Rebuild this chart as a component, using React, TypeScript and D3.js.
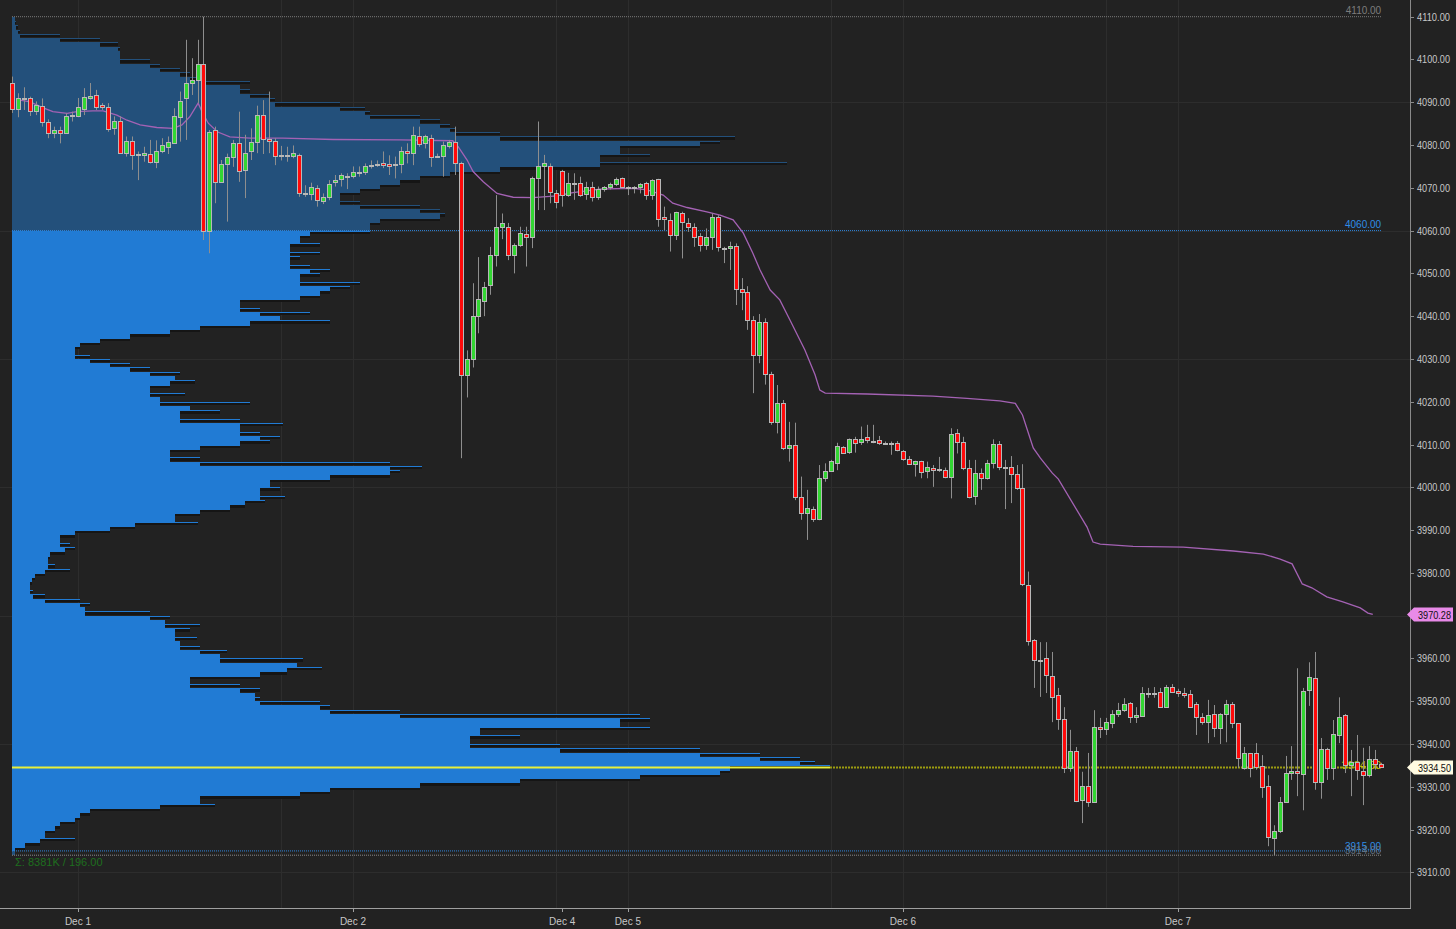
import React from "react";
import * as d3 from "d3";

// ---------- DATA ----------
// 30-minute bars: [open, high, low, close]
const ohlc: [number, number, number, number][] = [
  [4094.5,4096,4087.5,4088.5],[4088.4,4092.1,4086.5,4091.0],[4090.7,4093.5,4088.2,4091.0],[4091.0,4091.3,4086.8,4088.0],
  [4088.0,4090.2,4087.0,4089.4],[4089.2,4090.9,4084.3,4085.3],[4085.3,4086.0,4081.6,4082.8],[4082.8,4084.3,4081.6,4083.4],
  [4083.4,4084.3,4080.4,4082.9],[4082.9,4087.4,4082.8,4086.7],[4086.7,4087.8,4085.5,4087.1],[4086.9,4091.0,4086.5,4088.8],
  [4088.4,4093.3,4087.0,4091.2],[4091.0,4094.5,4090.6,4091.5],[4091.7,4092.9,4088.2,4088.8],[4089.3,4089.8,4088.2,4088.8],
  [4088.8,4089.8,4083.1,4083.8],[4084.0,4086.7,4082.4,4085.7],[4085.7,4086.7,4077.9,4078.2],[4078.2,4082.0,4077.3,4081.0],
  [4081.0,4082.0,4074.2,4077.7],[4077.8,4078.5,4071.8,4077.7],[4077.7,4079.6,4076.1,4078.2],[4078.0,4081.2,4075.7,4076.1],
  [4076.1,4081.1,4074.6,4078.7],[4078.5,4081.6,4078.1,4079.9],[4079.6,4082.0,4077.9,4080.6],[4080.4,4088.6,4080.3,4086.7],
  [4086.5,4092.5,4080.8,4090.2],[4091.0,4104.6,4081.2,4094.6],[4094.6,4100.3,4091.7,4095.1],[4095.1,4104.6,4089.8,4099.0],
  [4099.0,4110.0,4057.8,4060.0],[4060.0,4083.5,4054.7,4083.1],[4083.4,4084.3,4066.4,4071.4],[4071.4,4076.5,4071.2,4075.5],
  [4075.6,4078.0,4062.1,4077.3],[4077.3,4081.2,4074.9,4080.4],[4080.4,4087.8,4071.4,4074.0],[4074.2,4082.4,4067.6,4078.2],
  [4078.5,4083.9,4076.5,4080.8],[4080.8,4089.2,4078.1,4087.0],[4087.0,4090.5,4077.9,4081.4],[4081.4,4092.5,4078.1,4081.0],
  [4081.0,4081.6,4075.3,4077.4],[4077.7,4079.8,4076.4,4077.7],[4077.6,4079.6,4076.1,4077.6],[4077.5,4079.9,4076.9,4078.1],
  [4077.7,4078.0,4067.9,4068.9],[4068.9,4070.6,4067.9,4068.9],[4068.6,4071.2,4067.1,4070.1],[4069.9,4070.6,4065.6,4067.1],
  [4067.0,4068.7,4066.2,4067.9],[4067.9,4071.8,4067.1,4071.0],[4071.4,4073.0,4070.3,4071.8],[4072.0,4073.4,4070.3,4073.0],
  [4072.8,4073.4,4069.7,4072.8],[4072.8,4075.0,4072.2,4073.8],[4073.8,4075.0,4072.6,4073.8],[4073.6,4075.7,4073.0,4075.2],
  [4075.3,4076.4,4074.5,4075.3],[4075.5,4076.4,4074.9,4075.5],[4075.7,4078.5,4074.6,4075.3],[4075.5,4077.6,4073.0,4075.1],
  [4075.5,4077.3,4072.2,4075.5],[4075.5,4079.6,4073.4,4078.7],[4078.7,4080.4,4075.7,4078.1],[4078.2,4084.3,4075.3,4082.4],
  [4082.1,4084.3,4079.6,4080.3],[4080.4,4082.4,4079.2,4082.0],[4081.7,4082.4,4074.9,4077.3],[4077.5,4078.0,4077.0,4077.5],
  [4077.5,4080.8,4072.6,4079.9],[4079.8,4081.2,4079.2,4080.8],[4080.8,4084.3,4073.0,4075.7],[4075.7,4076.1,4006.8,4026.2],
  [4026.2,4032.0,4021.0,4030.0],[4030.0,4047.7,4028.0,4040.0],[4040.0,4053.8,4036.0,4044.0],[4043.5,4048.0,4040.0,4046.8],
  [4047.3,4056.2,4045.0,4054.3],[4054.3,4068.3,4051.6,4060.8],[4060.8,4064.0,4058.0,4061.8],[4060.8,4061.8,4053.1,4054.3],
  [4054.3,4057.0,4050.0,4056.6],[4056.6,4060.9,4056.2,4059.4],[4059.2,4060.9,4051.6,4058.5],[4058.5,4072.6,4055.9,4072.3],
  [4072.3,4085.5,4064.8,4075.1],[4075.1,4077.7,4064.8,4075.7],[4075.1,4075.7,4066.4,4069.0],[4068.8,4069.5,4065.2,4066.7],
  [4073.9,4074.2,4065.6,4068.3],[4068.3,4073.5,4067.9,4071.1],[4071.1,4073.4,4067.2,4071.1],[4071.1,4072.6,4067.9,4068.3],
  [4068.5,4071.4,4067.2,4070.3],[4070.3,4071.4,4066.8,4067.9],[4067.9,4070.3,4067.2,4069.7],[4069.7,4070.4,4069.1,4070.1],
  [4070.3,4071.2,4069.6,4070.8],[4070.8,4072.4,4070.4,4072.1],[4072.3,4072.4,4069.8,4070.1],[4070.3,4070.4,4068.3,4070.3],
  [4070.3,4070.4,4068.7,4069.9],[4070.1,4071.1,4068.7,4070.8],[4071.1,4071.4,4067.2,4068.3],[4068.3,4072.0,4067.2,4071.8],
  [4072.1,4072.1,4060.9,4062.7],[4063.2,4065.6,4060.1,4062.7],[4062.5,4064.0,4055.1,4059.0],[4059.0,4064.4,4057.8,4064.3],
  [4064.1,4064.4,4053.5,4062.0],[4061.8,4062.9,4059.7,4060.8],[4060.8,4061.7,4056.2,4058.5],[4058.7,4059.4,4055.1,4056.6],
  [4056.6,4060.5,4055.5,4058.5],[4058.5,4064.0,4055.5,4063.2],[4063.2,4063.6,4055.1,4056.2],[4056.0,4056.2,4052.4,4056.0],
  [4055.9,4057.4,4050.8,4056.4],[4056.4,4057.0,4042.6,4046.3],[4046.3,4048.9,4041.4,4045.6],[4045.6,4047.0,4036.8,4039.1],
  [4039.1,4040.0,4022.0,4031.0],[4031.0,4040.5,4029.0,4038.6],[4038.6,4039.5,4024.0,4026.5],[4026.5,4027.0,4014.6,4015.3],
  [4015.3,4023.9,4012.6,4019.6],[4019.6,4020.4,4008.7,4009.1],[4009.1,4015.3,4006.0,4009.9],[4009.9,4015.1,3997.0,3997.8],
  [3997.7,4002.5,3992.4,3994.1],[3994.1,3999.4,3987.7,3995.1],[3994.9,3995.5,3991.9,3992.5],[3992.7,4005.2,3992.3,4002.1],
  [4002.1,4005.6,4001.3,4003.9],[4003.9,4006.4,4003.7,4006.2],[4005.7,4010.4,4004.0,4009.6],[4009.3,4009.6,4007.8,4008.1],
  [4008.3,4011.4,4007.8,4011.3],[4011.3,4011.8,4008.1,4010.3],[4010.5,4014.2,4009.9,4011.4],[4011.7,4014.6,4010.3,4011.1],
  [4010.8,4014.6,4010.3,4010.8],[4011.1,4012.0,4009.9,4010.3],[4010.3,4010.7,4009.9,4010.3],[4010.3,4010.7,4007.6,4010.3],
  [4010.3,4010.8,4008.4,4008.6],[4008.5,4008.7,4006.2,4006.5],[4006.6,4007.3,4005.2,4005.4],[4005.4,4006.2,4002.5,4006.1],
  [4006.1,4006.2,4002.1,4003.6],[4003.9,4006.0,4002.1,4004.7],[4004.5,4005.2,4000.1,4004.0],[4004.2,4007.1,4003.6,4004.2],
  [4004.0,4004.6,4002.1,4002.5],[4002.5,4013.8,3997.4,4012.5],[4012.8,4013.6,4007.9,4010.5],[4010.5,4011.8,4004.0,4004.4],
  [4004.4,4006.4,3997.4,3997.8],[3998.0,4006.4,3995.9,4003.3],[4003.3,4004.4,3999.4,4002.2],[4002.2,4006.4,4001.8,4005.7],
  [4005.6,4011.2,4004.4,4010.1],[4010.1,4010.8,4004.0,4004.7],[4004.7,4006.4,3994.9,4004.7],[4004.7,4007.3,3996.3,4003.0],
  [4003.0,4005.2,3999.4,3999.9],[3999.9,4005.4,3976.9,3977.4],[3977.2,3980.3,3963.0,3964.1],[3964.3,3964.5,3953.1,3959.6],
  [3959.6,3963.8,3951.0,3959.6],[3960.1,3963.8,3951.9,3956.1],[3955.9,3961.5,3945.1,3951.0],[3951.4,3953.1,3943.3,3945.8],
  [3945.8,3948.6,3933.2,3934.4],[3934.4,3943.3,3933.5,3938.4],[3938.4,3939.3,3926.4,3926.7],[3926.9,3933.5,3921.5,3930.2],
  [3930.2,3937.9,3925.3,3926.4],[3926.4,3947.9,3926.2,3944.0],[3944.0,3946.1,3941.4,3943.5],[3943.5,3946.1,3942.1,3945.1],
  [3944.9,3947.9,3943.7,3947.0],[3947.0,3949.6,3946.3,3947.9],[3947.9,3950.7,3947.5,3949.4],[3949.6,3949.8,3944.9,3946.3],
  [3946.3,3948.6,3944.9,3946.8],[3946.6,3953.3,3946.3,3951.9],[3951.9,3953.1,3950.8,3951.9],[3951.7,3953.3,3950.8,3951.9],
  [3952.2,3953.1,3948.4,3948.6],[3948.6,3953.8,3948.4,3953.3],[3953.3,3954.0,3951.9,3952.2],[3952.4,3952.9,3951.0,3951.9],
  [3951.9,3953.1,3950.8,3951.4],[3951.7,3952.6,3948.4,3948.6],[3949.4,3949.8,3942.1,3946.3],[3946.3,3947.2,3944.5,3945.1],
  [3945.1,3950.3,3940.2,3946.8],[3947.0,3949.1,3941.6,3943.7],[3943.7,3947.2,3940.0,3947.0],[3947.0,3950.3,3940.4,3949.4],
  [3949.4,3949.8,3943.7,3944.9],[3944.9,3944.9,3934.4,3936.7],[3934.4,3939.3,3934.0,3937.9],[3937.9,3937.9,3932.2,3934.4],
  [3937.9,3940.2,3934.0,3934.7],[3934.9,3937.4,3927.4,3929.9],[3930.2,3932.7,3916.1,3918.3],[3918.0,3921.0,3914.0,3919.7],
  [3919.7,3927.6,3919.2,3926.4],[3926.4,3937.2,3926.2,3933.2],[3933.2,3939.5,3931.6,3933.7],[3933.7,3957.7,3927.8,3933.2],
  [3933.0,3953.1,3924.5,3952.4],[3952.6,3959.1,3948.9,3955.7],[3955.4,3961.5,3929.3,3931.1],[3931.1,3941.4,3927.2,3938.8],
  [3938.8,3939.1,3931.6,3934.4],[3934.4,3945.6,3931.6,3942.3],[3942.1,3950.9,3940.2,3946.3],[3946.8,3947.0,3933.2,3935.1],
  [3935.1,3938.6,3927.8,3935.8],[3935.8,3942.1,3931.6,3934.0],[3933.7,3939.1,3925.7,3932.7],[3932.7,3939.5,3932.2,3936.5],
  [3936.5,3938.6,3934.0,3935.4],[3935.4,3935.6,3934.4,3934.5],
];

// Volume profile, one row per point, from 4109 down to 3914
const PROFILE_TOP = 4109;
const profileVolume = [
  3,4,6,8,48,88,106,108,108,108,138,148,168,178,193,238,228,238,258,263,
  328,353,358,408,428,438,443,488,723,708,688,608,638,588,775,588,488,438,408,388,
  368,348,328,348,408,428,433,428,368,358,
  358,298,288,308,278,308,288,278,298,318,308,288,348,338,318,308,288,228,248,298,
  268,318,238,188,158,118,88,68,63,78,98,118,138,168,163,183,158,138,173,148,
  238,178,208,168,228,271,228,248,268,258,228,188,158,188,378,410,388,378,318,258,
  268,248,273,253,233,218,188,163,186,123,98,63,48,58,63,53,38,36,43,58,
  33,23,20,18,21,33,68,78,73,138,158,153,188,178,163,185,168,188,215,208,
  291,285,310,275,248,178,228,248,243,248,308,318,388,628,638,608,638,468,508,458,
  548,688,748,788,803,818,718,708,628,508,408,318,288,188,203,148,78,68,63,48,
  43,33,63,28,13,3,
];
const VAH = 4060;
const VAL = 3915;
const POC = 3934.5;
const HIGH = 4110;
const LOW = 3914;
const LAST = 3934.5;
const VWAP_LAST = 3970.28;

// VWAP line (bar index, price)
const vwapIdx = [1.3,3,5.2,6.8,9.2,10.8,13.5,15.2,17.5,19.2,21.4,24.2,26.9,28.4,29.7,31.1,31.9,32.8,34.3,36.4,39.8,45.3,53.7,64.9,73.7,74.6,76.1,77.1,78.8,81.1,83.8,87.1,91.1,93.8,98.3,103.9,106.2,108.9,110.5,112.9,116.2,118.4,120.6,122.3,123.9,125.1,126.8,128.4,130.1,132.6,134.3,135.1,136,143,154,159.7,165.2,167.8,169,170.8,172,174,175,179.8,180.8,182,187.5,195.9,204.3,209.3,212.1,214.1,215.8,217.4,219.9,222.6,225.5,226.8,227.6];
const vwapVal = [4090.5,4090.1,4088.7,4087.8,4087.4,4087.8,4088.0,4088.0,4087.0,4085.8,4084.7,4084.1,4083.9,4084.7,4086.6,4089.8,4087.4,4085.1,4083.1,4081.9,4081.6,4081.6,4081.3,4081.2,4081.0,4079.6,4076.5,4073.8,4071.4,4068.7,4067.8,4067.7,4068.1,4068.9,4069.7,4069.9,4069.5,4068.3,4066.4,4065.4,4064.4,4063.6,4062.5,4059.4,4054.7,4050.8,4046.1,4043.8,4039.1,4032.1,4026.3,4022.7,4022.0,4021.8,4021.3,4020.8,4020.2,4019.6,4016.9,4009.2,4006.8,4003.3,4001.9,3990.7,3987.2,3986.7,3986.2,3986.0,3985.1,3984.4,3983.2,3982.1,3977.4,3976.5,3974.4,3973.2,3971.8,3970.6,3970.28];

const dateLabels = ["Dec 1", "Dec 2", "Dec 4", "Dec 5", "Dec 6", "Dec 7"];
const dateIdx = [11, 57, 92, 103, 149, 195];
const gridIdx = [11, 45, 57, 91, 103, 137, 149, 183, 195];
const gridPrices = [4090, 4060, 4030, 4000, 3970, 3940, 3910];

// ---------- STYLE ----------
const W = 1456, H = 929;
const BG = "#222222";
const AXIS_X = 1410;
const AXIS_Y = 908;
const FONT = "'Liberation Sans', Arial, sans-serif";
const GREEN = "#33d633";
const RED = "#ff0a0a";

export default function App() {
  const x = d3.scaleLinear().domain([0, 229]).range([12.2, 12.2 + 229 * 5.978]);
  const y = d3.scaleLinear().domain([3910, 4110]).range([872.3, 16.7]);
  const maxVol = d3.max(profileVolume) as number;
  const profLeft = 12;
  const pw = d3.scaleLinear().domain([0, maxVol]).range([0, 818]);
  const lineEnd = x(229);

  const rows = profileVolume.map((v, k) => {
    const p = PROFILE_TOP - k;
    const prev = k > 0 ? profileVolume[k - 1] : v;
    const next = k < profileVolume.length - 1 ? profileVolume[k + 1] : v;
    const core = Math.min(v, prev, next);
    return { p, v, core };
  });

  const vwapLine = d3
    .line<number>()
    .x((_, i) => x(vwapIdx[i]))
    .y((d) => y(d))
    .curve(d3.curveLinear);

  const yTicks = y.ticks(20);

  const labelBox = (price: number, bg: string, key: string) => {
    const yc = Math.round(y(price)) + 0.5;
    return (
      <g key={key}>
        <path
          d={`M${AXIS_X - 3},${yc} L${AXIS_X + 4},${yc - 7} L${W - 3},${yc - 7} L${W - 3},${yc + 7} L${AXIS_X + 4},${yc + 7} Z`}
          fill={bg}
        />
        <text x={AXIS_X + 8} y={yc + 4} fontSize={10.5} fill="#111" fontFamily={FONT} textLength={33} lengthAdjust="spacingAndGlyphs">
          {price.toFixed(2)}
        </text>
      </g>
    );
  };

  return (
    <svg
      width={W}
      height={H}
      style={{ position: "fixed", left: 0, top: 0, display: "block", background: BG }}
    >
      <rect x={0} y={0} width={W} height={H} fill={BG} />
      {/* grid */}
      {gridPrices.map((p) => (
        <line key={"gh" + p} x1={0} x2={AXIS_X} y1={Math.round(y(p)) + 0.5} y2={Math.round(y(p)) + 0.5} stroke="#2d2d2d" />
      ))}
      {gridIdx.map((i) => (
        <line key={"gv" + i} x1={Math.round(x(i)) + 0.5} x2={Math.round(x(i)) + 0.5} y1={0} y2={AXIS_Y} stroke="#2d2d2d" />
      ))}

      {/* volume profile */}
      <g shapeRendering="crispEdges">
        {rows.map((r) => {
          const top = Math.round(y(r.p + 1));
          const bot = Math.round(y(r.p));
          const h = bot - top;
          const inVA = r.p < VAH && r.p >= VAL;
          const col = inVA ? "#217bd4" : "#23507b";
          const wFull = Math.round(pw(r.v));
          const wCore = Math.round(pw(r.core));
          return (
            <g key={"pr" + r.p}>
              <rect x={profLeft} y={top} width={wCore} height={h} fill={col} />
              {wFull > wCore && (
                <>
                  <rect x={profLeft + wCore} y={top} width={wFull - wCore} height={1} fill={col} />
                  <rect x={profLeft + wCore} y={top + 1} width={wFull - wCore} height={Math.max(1, h - 2)} fill="#151515" />
                </>
              )}
            </g>
          );
        })}
      </g>

      {/* reference lines */}
      <line x1={profLeft} x2={lineEnd} y1={y(HIGH)} y2={y(HIGH)} stroke="#7a7a7a" strokeDasharray="1,1" />
      <text x={lineEnd} y={y(HIGH) - 3} textAnchor="end" fontSize={10} fill="#7d7d7d" fontFamily={FONT}>
        {HIGH.toFixed(2)}
      </text>
      <line x1={profLeft} x2={lineEnd} y1={y(VAH)} y2={y(VAH)} stroke="#2f86de" strokeDasharray="1,1" />
      <text x={lineEnd} y={y(VAH) - 3} textAnchor="end" fontSize={10} fill="#2f8de6" fontFamily={FONT}>
        {VAH.toFixed(2)}
      </text>
      <line x1={profLeft} x2={lineEnd} y1={y(VAL)} y2={y(VAL)} stroke="#2f86de" strokeDasharray="1,1" />
      <line x1={profLeft} x2={lineEnd} y1={y(LOW)} y2={y(LOW)} stroke="#8a8a8a" strokeDasharray="1,1" />
      <text x={lineEnd} y={y(VAL) - 1} textAnchor="end" fontSize={10} fill="#2f8de6" fontFamily={FONT}>
        {VAL.toFixed(2)}
      </text>
      <text x={lineEnd} y={y(LOW) - 1} textAnchor="end" fontSize={10} fill="#6f7f90" fontFamily={FONT} opacity={0.8}>
        {LOW.toFixed(2)}
      </text>

      {/* POC */}
      <line x1={profLeft} x2={profLeft + pw(maxVol)} y1={y(POC)} y2={y(POC)} stroke="#e8f03a" strokeWidth={2} />
      <line x1={profLeft + pw(maxVol)} x2={lineEnd} y1={y(POC)} y2={y(POC)} stroke="#9c9c10" strokeWidth={2} strokeDasharray="2,1" />
      <text x={lineEnd} y={y(POC) + 2} textAnchor="end" fontSize={11} fill="#c8c800" fontFamily={FONT}>
        {POC.toFixed(2)}
      </text>

      {/* VWAP */}
      <path d={vwapLine(vwapVal) || ""} fill="none" stroke="#a462b4" strokeWidth={1.3} />

      {/* candles */}
      {ohlc.map(([o, h, l, c], i) => {
        const cx = Math.round(x(i)) + 0.5;
        const top = Math.round(y(Math.max(o, c))) + 0.5;
        const bot = Math.round(y(Math.min(o, c))) + 0.5;
        const fill = c > o ? GREEN : c < o ? RED : "#e0e0e0";
        return (
          <g key={"c" + i}>
            <line x1={cx} x2={cx} y1={y(h)} y2={y(l)} stroke="#8e8e8e" />
            <rect x={cx - 2} y={top} width={4} height={Math.max(1, bot - top)} fill={fill} stroke="#b8b8b8" strokeWidth={1} />
          </g>
        );
      })}

      {/* Sigma text */}
      <text x={15} y={y(LOW) + 11} fontSize={11} fill="#1e6e1e" fontFamily={FONT}>
        Σ: 8381K / 196.00
      </text>

      {/* right axis */}
      <line x1={AXIS_X + 0.5} x2={AXIS_X + 0.5} y1={0} y2={AXIS_Y} stroke="#8a8a8a" />
      {yTicks.map((t) => (
        <g key={"yt" + t}>
          <line x1={AXIS_X} x2={AXIS_X + 4} y1={Math.round(y(t)) + 0.5} y2={Math.round(y(t)) + 0.5} stroke="#8a8a8a" />
          <text x={AXIS_X + 7} y={y(t) + 4} fontSize={10.5} fill="#c8c8c8" fontFamily={FONT} textLength={33} lengthAdjust="spacingAndGlyphs">
            {t.toFixed(2)}
          </text>
        </g>
      ))}
      {labelBox(VWAP_LAST, "#e88ae8", "vw")}
      {labelBox(LAST, "#fffbe2", "last")}

      {/* bottom axis */}
      <line x1={0} x2={AXIS_X + 1} y1={AXIS_Y + 0.5} y2={AXIS_Y + 0.5} stroke="#a0a0a0" />
      {dateIdx.map((i, k) => (
        <g key={"xt" + k}>
          <line x1={Math.round(x(i)) + 0.5} x2={Math.round(x(i)) + 0.5} y1={AXIS_Y} y2={AXIS_Y + 4} stroke="#a0a0a0" />
          <text x={x(i)} y={AXIS_Y + 17} textAnchor="middle" fontSize={10} fill="#c8c8c8" fontFamily={FONT}>
            {dateLabels[k]}
          </text>
        </g>
      ))}
    </svg>
  );
}
